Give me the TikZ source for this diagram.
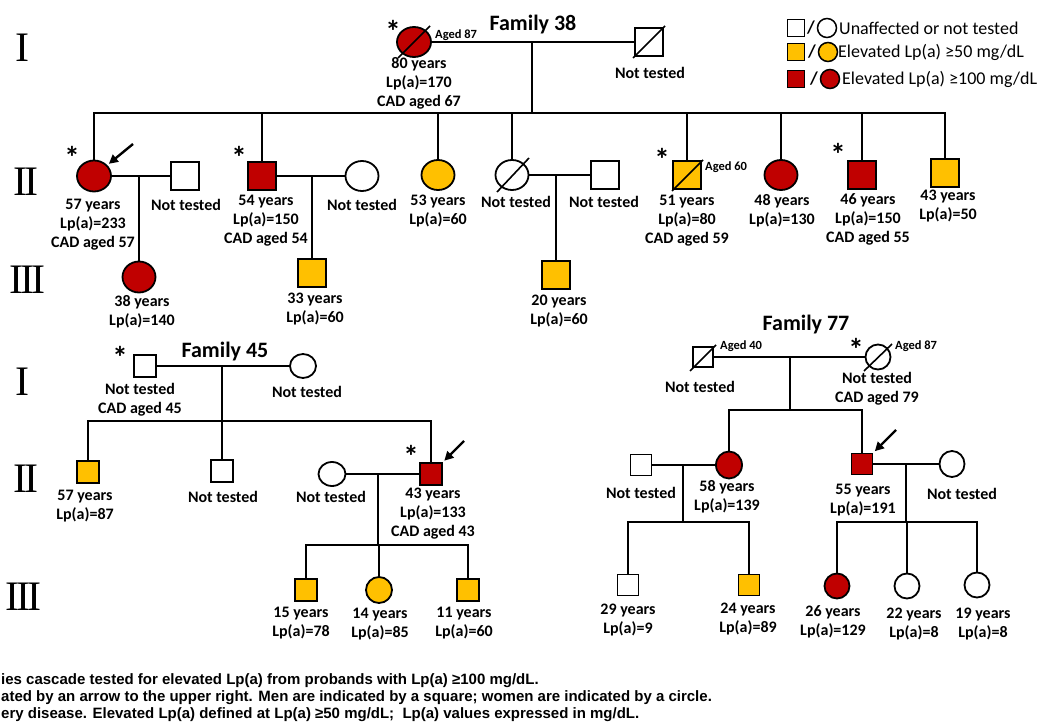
\documentclass[tikz,border=0pt]{standalone}
\usepackage{fontspec}
\setmainfont{Carlito}
\newfontfamily\capfont{Liberation Sans}
\newfontfamily\romfont{Liberation Serif}
\usetikzlibrary{shapes.geometric,arrows.meta,calc}
\definecolor{lpred}{RGB}{192,0,0}
\definecolor{lpyel}{RGB}{255,192,0}
\newcommand\lblf{\fontsize{16}{19}\selectfont\bfseries}
\newcommand\smlf{\fontsize{12.5}{14}\selectfont\bfseries}
\newcommand\ttlf{\fontsize{22}{26}\selectfont\bfseries}
\newcommand\astf{\fontsize{31}{31}\selectfont\bfseries}
\newcommand\genf{\romfont\fontsize{42}{42}\selectfont}
\newcommand\legf{\fontsize{18}{20}\selectfont}
\newcommand\capf{\capfont\bfseries\fontsize{15}{17}\selectfont}
\begin{document}
\begin{tikzpicture}[x=1pt,y=-1pt,
 every node/.style={inner sep=0pt},
 msq/.style={draw=black,line width=1.8pt,rectangle,minimum size=#1},
 fci/.style n args={2}{draw=black,line width=1.8pt,ellipse,minimum width=#1,minimum height=#2},
 fred/.style={fill=lpred}, fyel/.style={fill=lpyel}, fwht/.style={fill=white},
 lbl/.style={font=\lblf,align=center},
 sml/.style={font=\smlf,anchor=west},
 ttl/.style={font=\ttlf},
 ast/.style={font=\astf,anchor=base},
 gen/.style={font=\genf},
 leg/.style={font=\legf,anchor=west},
 captxt/.style={font=\capf,anchor=west},
 link/.style={line width=1.8pt},
 dead/.style={line width=1.6pt},
 parrow/.style={line width=2.4pt,-{Triangle[length=9pt,width=9pt]},shorten >=2pt},
 ]
\useasboundingbox (0,0) rectangle (1045,725);

% generation labels
\node[gen] (g1) at (22,48) {I};
\node[gen] (g2) at (26,182) {I\kern-3pt I};
\node[gen] (g3) at (27,280) {I\kern-3pt I\kern-3pt I};
\node[gen] (g4) at (22,382) {I};
\node[gen] (g5) at (26,479) {I\kern-3pt I};
\node[gen] (g6) at (23,597) {I\kern-3pt I\kern-3pt I};

% legend
\node[msq=17,fwht,line width=1.5pt] (lg1) at (796,28) {};
\node[font=\legf\bfseries] (lgs1) at (811,28) {/};
\node[fci={19}{19},fwht,line width=1.5pt] (lgc1) at (827,28) {};
\node[leg] (lgt1) at (839,28) {Unaffected or not tested};
\node[msq=17,fyel,line width=1.5pt] (lg2) at (796,52) {};
\node[font=\legf\bfseries] (lgs2) at (812,52) {/};
\node[fci={19}{19},fyel,line width=1.5pt] (lgc2) at (828,52) {};
\node[leg] (lgt2) at (838,52) {Elevated Lp(a) ≥50 mg/dL};
\node[msq=17,fred,line width=1.5pt] (lg3) at (796,79) {};
\node[font=\legf\bfseries] (lgs3) at (814,79) {/};
\node[fci={19}{19},fred,line width=1.5pt] (lgc3) at (830,79) {};
\node[leg] (lgt3) at (842,79) {Elevated Lp(a) ≥100 mg/dL};

% ================= Family 38 =================
\node[ttl] (t38) at (533,25) {Family 38};
\node[fci={34}{30},fred] (a1) at (414,42) {};
\node[msq=28,fwht] (a2) at (649,42) {};
\coordinate (ma) at (532,42);
\coordinate (sa) at (532,113);
\draw[link] (a1) -- (a2);
\draw[link] (ma) -- (sa);
\draw[dead] ($(a1)+(-16,16)$) -- ($(a1)+(16,-16)$);
\draw[dead] ($(a2)+(-16,16)$) -- ($(a2)+(16,-16)$);
\node[ast] (as1) at (393,43) {*};
\node[sml] (ag1) at (435,35) {Aged 87};
\node[lbl] (la1) at (419,83) {80 years\\Lp(a)=170\\CAD aged 67};
\node[lbl] (la2) at (650,73) {Not tested};

\node[fci={34}{31},fred] (b1) at (94,176) {};
\node[msq=28,fwht] (b1s) at (185,176) {};
\node[msq=28,fred] (b2) at (262,176) {};
\node[fci={33}{30},fwht] (b2s) at (362,176) {};
\node[fci={33}{30},fyel] (b3) at (438,175) {};
\node[fci={33}{30},fwht] (b4) at (512,175) {};
\node[msq=28,fwht] (b4s) at (605,175) {};
\node[msq=28,fyel] (b5) at (687,175) {};
\node[fci={33}{30},fred] (b6) at (781,175) {};
\node[msq=28,fred] (b7) at (862,175) {};
\node[msq=28,fyel] (b8) at (945,173) {};
\foreach \n in {b1,b2,b3,b4,b5,b6,b7,b8} \draw[link] (sa) -| (\n);
\draw[link] (b1) -- (b1s);
\draw[link] (b2) -- (b2s);
\draw[link] (b4) -- (b4s);
\draw[dead] ($(b4)+(-15,17)$) -- ($(b4)+(17,-17)$);
\draw[dead] ($(b5)+(-15,16)$) -- ($(b5)+(16,-15)$);

\node[fci={33}{31},fred] (c1) at (139,277) {};
\node[msq=28,fyel] (c2) at (312,273) {};
\node[msq=28,fyel] (c3) at (556,275) {};
\coordinate (mb1) at (139,176);
\coordinate (mb2) at (312,176);
\coordinate (mb4) at (556,175);
\draw[link] (mb1) -- (c1);
\draw[link] (mb2) -- (c2);
\draw[link] (mb4) -- (c3);

\node[ast] (as2) at (72,168) {*};
\node[ast] (as3) at (239,168) {*};
\node[ast] (as4) at (662,170) {*};
\node[ast] (as5) at (838,165) {*};
\coordinate (pa1) at (133,144);
\draw[parrow] (pa1) -- (b1);
\node[sml] (ag2) at (705,167) {Aged 60};

\node[lbl] (lb1) at (93,225) {57 years\\Lp(a)=233\\CAD aged 57};
\node[lbl] (lb1s) at (186,205) {Not tested};
\node[lbl] (lb2) at (266,221) {54 years\\Lp(a)=150\\CAD aged 54};
\node[lbl] (lb2s) at (362,205) {Not tested};
\node[lbl] (lb3) at (438,211) {53 years\\Lp(a)=60};
\node[lbl] (lb4) at (516,202) {Not tested};
\node[lbl] (lb4s) at (604,202) {Not tested};
\node[lbl] (lb5) at (687,221) {51 years\\Lp(a)=80\\CAD aged 59};
\node[lbl] (lb6) at (782,211) {48 years\\Lp(a)=130};
\node[lbl] (lb7) at (868,219) {46 years\\Lp(a)=150\\CAD aged 55};
\node[lbl] (lb8) at (948,206) {43 years\\Lp(a)=50};
\node[lbl] (lc1) at (142,312) {38 years\\Lp(a)=140};
\node[lbl] (lc2) at (315,309) {33 years\\Lp(a)=60};
\node[lbl] (lc3) at (559,311) {20 years\\Lp(a)=60};

% ================= Family 45 =================
\node[ttl] (t45) at (225,352) {Family 45};
\node[msq=22,fwht] (d1) at (145,366) {};
\node[fci={26}{24},fwht] (d2) at (303,366) {};
\coordinate (md) at (222,366);
\coordinate (sd) at (222,421);
\draw[link] (d1) -- (d2);
\draw[link] (md) -- (sd);
\node[ast] (as6) at (120,368) {*};
\node[lbl] (ld1) at (140,400) {Not tested\\CAD aged 45};
\node[lbl] (ld2) at (307,392) {Not tested};

\node[msq=22,fyel] (e1) at (88,472) {};
\node[msq=22,fwht] (e2) at (222,471) {};
\node[msq=22,fred] (e3) at (431,474) {};
\node[fci={27}{24},fwht] (e3s) at (332,474) {};
\foreach \n in {e1,e2,e3} \draw[link] (sd) -| (\n);
\draw[link] (e3s) -- (e3);
\coordinate (me) at (378,474);
\coordinate (se) at (378,545);
\draw[link] (me) -- (se);
\node[ast] (as7) at (411,467) {*};
\coordinate (pa2) at (464,441);
\draw[parrow] (pa2) -- (e3);
\node[lbl] (le1) at (85,506) {57 years\\Lp(a)=87};
\node[lbl] (le2) at (223,497) {Not tested};
\node[lbl] (le3s) at (331,497) {Not tested};
\node[lbl] (le3) at (433,514) {43 years\\Lp(a)=133\\CAD aged 43};

\node[msq=22,fyel] (f1) at (306,590) {};
\node[fci={26}{26},fyel] (f2) at (379,590) {};
\node[msq=22,fyel] (f3) at (468,590) {};
\foreach \n in {f1,f2,f3} \draw[link] (se) -| (\n);
\node[lbl] (lf1) at (301,623) {15 years\\Lp(a)=78};
\node[lbl] (lf2) at (380,624) {14 years\\Lp(a)=85};
\node[lbl] (lf3) at (464,623) {11 years\\Lp(a)=60};

% ================= Family 77 =================
\node[ttl] (t77) at (806,325) {Family 77};
\node[msq=20,fwht] (k1) at (703,357) {};
\node[fci={25}{25},fwht] (k2) at (878,357) {};
\coordinate (mk) at (790,357);
\coordinate (sk) at (790,410);
\draw[link] (k1) -- (k2);
\draw[link] (mk) -- (sk);
\draw[dead] ($(k1)+(-13,14)$) -- ($(k1)+(13,-12)$);
\draw[dead] ($(k2)+(-14,14)$) -- ($(k2)+(14,-13)$);
\node[ast] (as8) at (856,360) {*};
\node[sml] (ag3) at (720,346) {Aged 40};
\node[sml] (ag4) at (895,346) {Aged 87};
\node[lbl] (lk1) at (700,387) {Not tested};
\node[lbl] (lk2) at (877,389) {Not tested\\CAD aged 79};

\node[fci={26}{27},fred] (h1) at (729,465) {};
\node[msq=21,fwht] (h1s) at (641,465) {};
\node[msq=21,fred] (h2) at (862,464) {};
\node[fci={25}{26},fwht] (h2s) at (952,464) {};
\foreach \n in {h1,h2} \draw[link] (sk) -| (\n);
\draw[link] (h1s) -- (h1);
\draw[link] (h2) -- (h2s);
\coordinate (mh1) at (683,465);
\coordinate (sh1) at (683,522);
\coordinate (mh2) at (906,464);
\coordinate (sh2) at (906,522);
\draw[link] (mh1) -- (sh1);
\draw[link] (mh2) -- (sh2);
\coordinate (pa3) at (896,430);
\draw[parrow] (pa3) -- (h2);
\node[lbl] (lh1s) at (641,493) {Not tested};
\node[lbl] (lh1) at (727,497) {58 years\\Lp(a)=139};
\node[lbl] (lh2) at (863,500) {55 years\\Lp(a)=191};
\node[lbl] (lh2s) at (962,494) {Not tested};

\node[msq=21,fwht] (i1) at (628,585) {};
\node[msq=21,fyel] (i2) at (749,585) {};
\node[fci={25}{25},fred] (i3) at (837,586) {};
\node[fci={25}{25},fwht] (i4) at (907,586) {};
\node[fci={25}{25},fwht] (i5) at (977,585) {};
\foreach \n in {i1,i2} \draw[link] (sh1) -| (\n);
\foreach \n in {i3,i4,i5} \draw[link] (sh2) -| (\n);
\node[lbl] (li1) at (628,620) {29 years\\Lp(a)=9};
\node[lbl] (li2) at (748,619) {24 years\\Lp(a)=89};
\node[lbl] (li3) at (833,622) {26 years\\Lp(a)=129};
\node[lbl] (li4) at (914,624) {22 years\\Lp(a)=8};
\node[lbl] (li5) at (983,624) {19 years\\Lp(a)=8};

% caption
\node[captxt] (cp1) at (1,681) {ies cascade tested for elevated Lp(a) from probands with Lp(a) ≥100 mg/dL.};
\node[captxt] (cp2) at (1,698) {ated by an arrow to the upper right. Men are indicated by a square; women are indicated by a circle.};
\node[captxt] (cp3) at (1,715) {ery disease. Elevated Lp(a) defined at Lp(a) ≥50 mg/dL;\ \ Lp(a) values expressed in mg/dL.};
\end{tikzpicture}
\end{document}
